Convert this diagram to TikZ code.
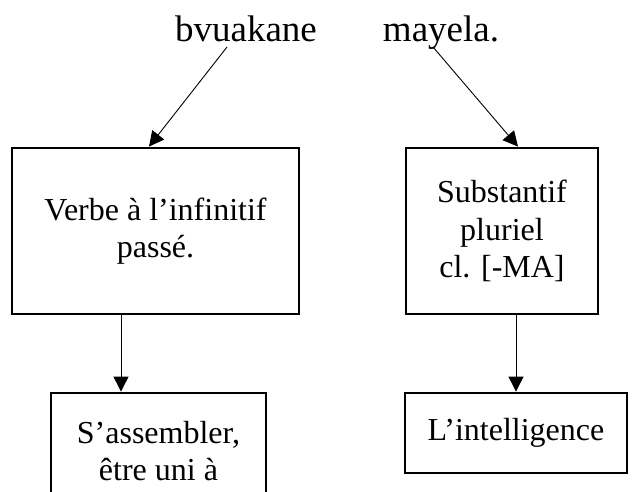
\documentclass[tikz,border=0pt]{standalone}
\usepackage{fontspec}
\setmainfont{Liberation Serif}
\usetikzlibrary{arrows.meta,calc}

\begin{document}
\begin{tikzpicture}[
 x=1pt,y=-1pt,
 every node/.style={align=center,font=\fontsize{32}{37.5}\selectfont,inner sep=0pt},
 mword/.style={font=\fontsize{37}{42}\selectfont,anchor=base},
 mbox/.style={draw=black,line width=2.8pt,minimum height=166pt},
 mflow/.style={-{Triangle[length=15pt,width=15pt]},draw=black,line width=.9pt}]
\clip (0,0) rectangle (632,492);
\node[mword] (bvu) at (246,42) {bvuakane};
\node[mword] (may) at (441,42) {mayela.};
\node[mbox,minimum width=287pt] (verbe) at (155.5,231) {Verbe à l’infinitif\\passé.};
\node[mbox,minimum width=192pt] (subst) at (502,231) {Substantif\\pluriel\\cl. [-MA]};
\node[mbox,minimum width=215pt,minimum height=116pt] (assem) at (158.5,451) {S’assembler,\\être uni à};
\node[mbox,minimum width=222pt,minimum height=80pt] (intel) at (516,433) {L’intelligence};
\coordinate (bvufoot) at (227,47);
\coordinate (mayfoot) at (433,47);
\draw[mflow] (bvufoot) -- ([xshift=-6.5pt]verbe.north);
\draw[mflow] (mayfoot) -- ([xshift=16pt]subst.north);
\draw[mflow] ([xshift=-34.5pt]verbe.south) coordinate (vfoot) -- (vfoot |- assem.north);
\draw[mflow] (intel.north |- subst.south) -- (intel.north);
\end{tikzpicture}
\end{document}
